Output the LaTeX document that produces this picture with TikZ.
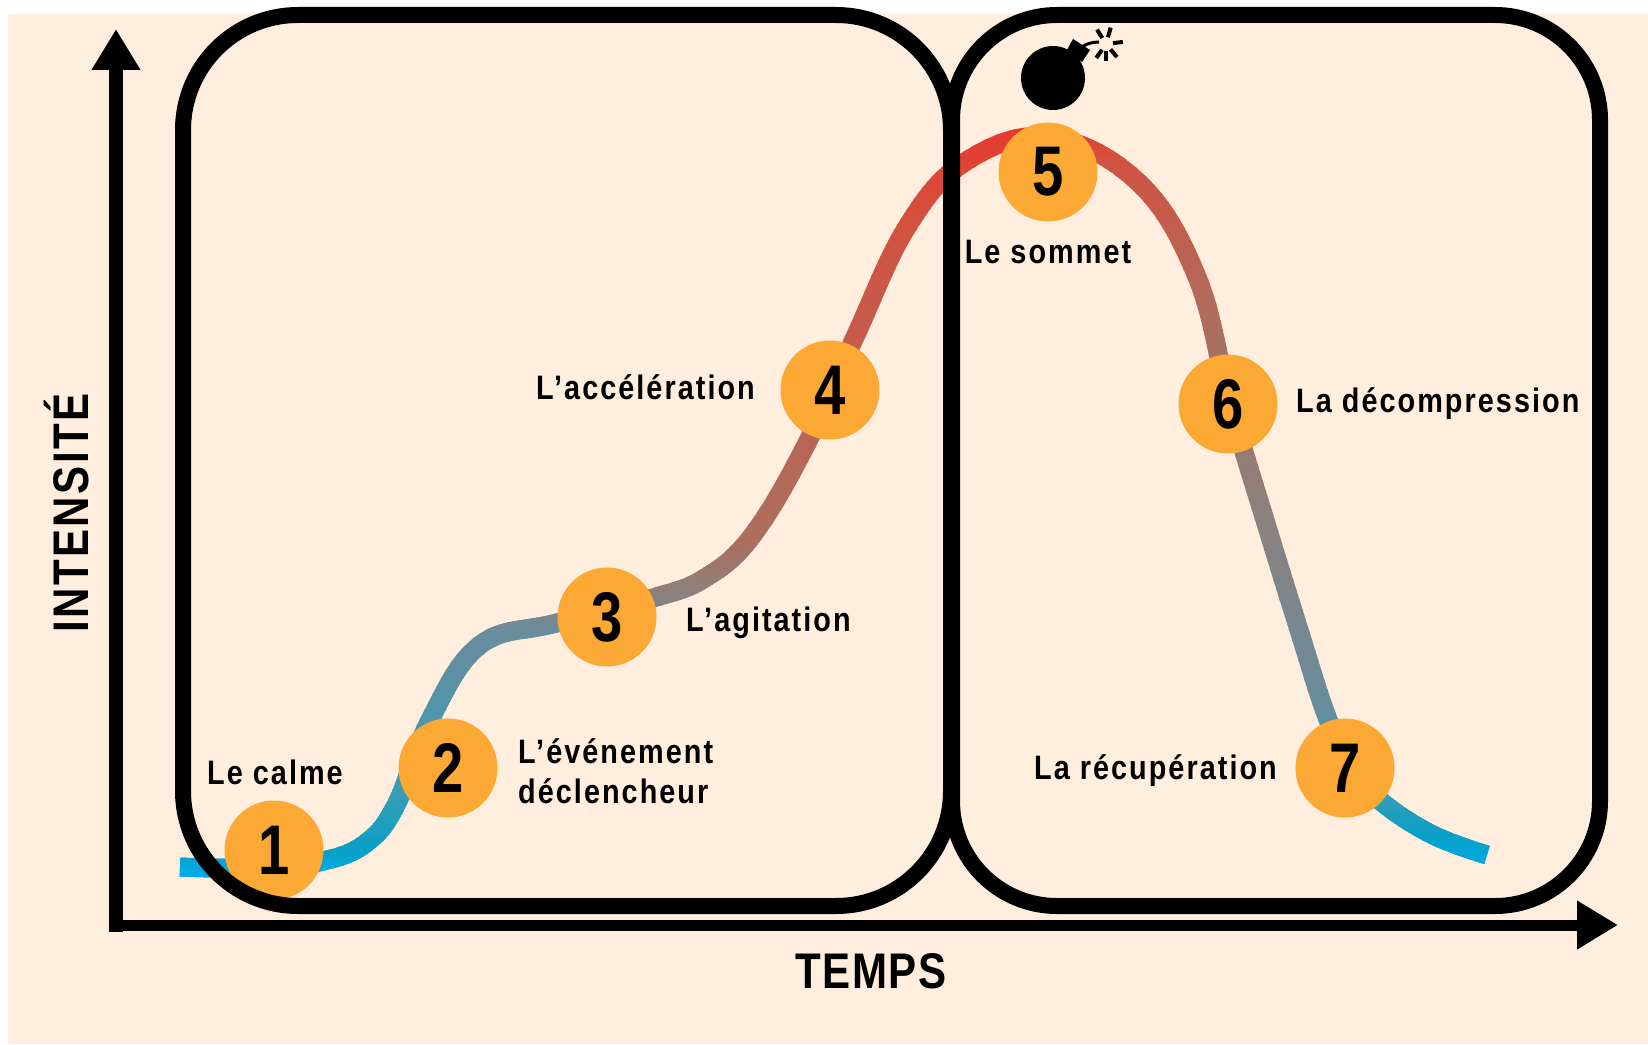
\documentclass[tikz,border=0pt]{standalone}
\usepackage{fontspec}
\setmainfont{Liberation Sans Bold}[FakeStretch=0.85,LetterSpace=6]
\newfontfamily\chiffres{Liberation Sans Bold}[FakeStretch=0.8]
\newfontfamily\axes{Liberation Sans Bold}[FakeStretch=0.84,LetterSpace=3]
\usetikzlibrary{arrows.meta,positioning}

\definecolor{fond}{HTML}{FFEEDD}
\definecolor{pastille}{HTML}{FBA834}
\definecolor{ciel}{HTML}{00AEEF}
\definecolor{canard}{HTML}{08A0C6}
\definecolor{grisbleu}{HTML}{3C9CB5}
\definecolor{ardoise}{HTML}{6A8C9C}
\definecolor{taupe}{HTML}{8F7F7A}
\definecolor{brique}{HTML}{AC6E5F}
\definecolor{rouille}{HTML}{D25240}
\definecolor{rouge}{HTML}{E63A2E}
\newcommand{\trace}{plot[smooth,tension=0.65] coordinates {
    (180,867) (260,868) (323,861) (366,843) (396,805) (430,720) (480,645) (557,623)
    (653,598) (705,578) (752,536) (805,447) (855,337) (907,227) (965,162) (1048,137)
    (1138,182) (1197,277) (1230,404) (1268,530) (1299,630) (1327,717)
    (1352,770) (1383,803) (1433,835) (1487,855)}}
\tikzset{
    x=0.02cm,y=-0.02cm,
    etape/.style={circle,fill=pastille,inner sep=0pt,minimum size=1.98cm,
        font=\chiffres\fontsize{40}{40}\selectfont},
    legende/.style={inner sep=0pt,font=\fontsize{19.3}{23}\selectfont,align=left},
    titre/.style={font=\axes\fontsize{28.5}{30}\selectfont},
    cadre/.style={draw=black,line width=0.32cm},
    axe/.style={draw=black,-{Triangle[length=0.82cm,width=0.92cm]}},
}

\begin{document}
\begin{tikzpicture}
\useasboundingbox (0,0) rectangle (1648,1044);
\fill[fond] (8,14) rectangle (1648,1044);

\coordinate (origine) at (116,925);
\coordinate (haut) at (116,29);
\coordinate (droite) at (1618,925);
\draw[axe,line width=0.28cm,line cap=rect] (origine) -- (haut);
\draw[axe,line width=0.22cm,line cap=rect] (origine) -- (droite);

% the curve, one thin band of colour at a time, left and right of the top
\foreach \xa/\xb/\ybas/\yhaut/\ca/\cb in {0/1048/880/850/ciel/canard,
    0/1048/850/790/canard/grisbleu,0/1048/790/630/grisbleu/ardoise,
    0/1048/630/590/ardoise/taupe,0/1048/590/540/taupe/brique,
    0/1048/540/230/brique/rouille,0/1048/230/125/rouille/rouge,
    1048/1648/880/835/ciel/canard,1048/1648/835/790/canard/grisbleu,
    1048/1648/790/700/grisbleu/ardoise,1048/1648/700/500/ardoise/taupe,
    1048/1648/500/330/taupe/brique,1048/1648/330/160/brique/rouille,
    1048/1648/160/125/rouille/rouge}
  \foreach \t in {0,5,...,95} {
    \pgfmathsetmacro\ya{\ybas+(\yhaut-\ybas)/100*\t}
    \pgfmathsetmacro\yb{\ya+(\yhaut-\ybas)/20-1}
    \begin{scope}
    \clip (\xa,\ya) rectangle (\xb,\yb);
    \draw[\cb!\t!\ca,line width=0.38cm] \trace;
    \end{scope}
  }

\node [etape] (un) at (274,850) {1};
\node [etape] (deux) at (448,768) {2};
\node [etape] (trois) at (607,617) {3};
\node [etape] (quatre) at (830,390) {4};
\node [etape] (cinq) at (1048,172) {5};
\node [etape] (six) at (1228,404) {6};
\node [etape] (sept) at (1345,768) {7};

\node [legende] (calme) at (275,772) {Le calme};
\node [legende,right=0.4cm of deux,yshift=-0.06cm] (declencheur) {L'événement\\déclencheur};
\node [legende,right=0.58cm of trois,yshift=-0.12cm] (agitation) {L'agitation};
\node [legende,left=0.5cm of quatre,yshift=0.06cm] (acceleration) {L'accélération};
\node [legende,below=0.36cm of cinq] (sommet) {Le sommet};
\node [legende,right=0.36cm of six] (decompression) {La décompression};
\node [legende,left=0.36cm of sept,yshift=-0.06cm] (recuperation) {La récupération};

\node [titre] (temps) at (871,971) {TEMPS};
\node [titre,rotate=90,anchor=base] (intensite) at (88,513) {\addfontfeature{LetterSpace=5}INTENSITÉ};

% the two frames come last, over the curve
\draw[cadre,rounded corners=2.3cm] (183,15) rectangle (951,906);
\draw[cadre,rounded corners=2.1cm] (952,15) rectangle (1600,906);

% bomb
\fill (1053,78) circle (32);
\fill (1067,50) -- (1073,39) -- (1090,50) -- (1082,62) -- cycle;
\draw[line width=0.06cm] (1082,47) .. controls (1086,44) and (1092,42) .. (1099,42);
\foreach \a in {-122,-74,-7,50,90,125}
    \draw[line width=0.08cm] (1106,44) ++(\a:7) -- ++(\a:10);
\end{tikzpicture}
\end{document}
